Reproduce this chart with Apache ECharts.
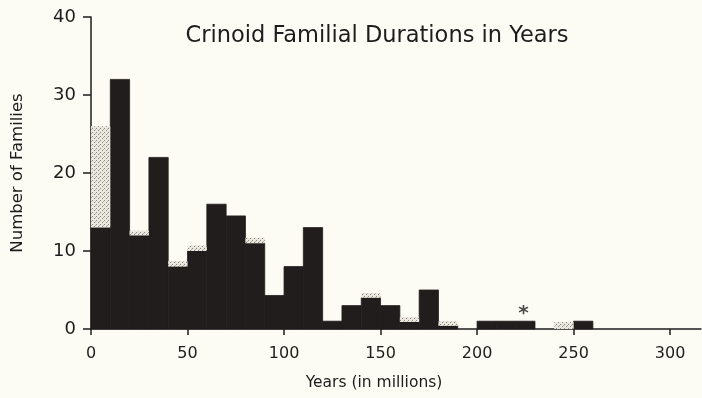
<!DOCTYPE html>
<html>
<head>
<meta charset="utf-8">
<script src="https://cdn.jsdelivr.net/npm/echarts@6/dist/echarts.min.js"></script>
<style>
  html, body { margin: 0; padding: 0; background: #fdfcf4; }
  #chart { width: 702px; height: 398px; }
</style>
</head>
<body>
<div id="chart"></div>
<script>
// Duration bins, 10 million years wide (start of each bin)
const binStarts = [0, 10, 20, 30, 40, 50, 60, 70, 80, 90, 100, 110, 120, 130, 140, 150, 160, 170, 180, 190, 200, 210, 220, 230, 240, 250];
const binWidth = 10;
// Families per bin: solid part and stippled part stacked on top
const solidCounts = [13, 32, 12, 22, 8, 10, 16, 14.5, 11, 4.3, 8, 13, 1, 3, 4, 3, 0.9, 5, 0.4, 0, 1, 1, 1, 0, 0, 1];
const stippledCounts = [13, 0, 0.6, 0, 0.7, 0.7, 0, 0, 0.7, 0, 0, 0, 0, 0, 0.6, 0, 0.6, 0, 0.6, 0, 0, 0, 0, 0, 0.9, 0];
// Asterisk note over the 200-230 span
const noteMarks = [[224, 1.9]];
const xTicks = [0, 50, 100, 150, 200, 250, 300];
const yTicks = [0, 10, 20, 30, 40];

// stippled fill pattern
function makeStipple() {
  const c = document.createElement('canvas');
  c.width = 4; c.height = 4;
  const g = c.getContext('2d');
  g.fillStyle = '#e9e7de';
  g.fillRect(0, 0, 4, 4);
  g.fillStyle = '#8a8780';
  g.fillRect(0, 0, 1, 1);
  g.fillRect(2, 2, 1, 1);
  g.fillStyle = '#b3b0a8';
  g.fillRect(3, 1, 1, 1);
  return c;
}
const stipple = { image: makeStipple(), repeat: 'repeat' };

const solidData = [];
const stippledData = [];
binStarts.forEach((b, i) => {
  if (solidCounts[i] > 0) solidData.push([b, b + binWidth, 0, solidCounts[i]]);
  if (stippledCounts[i] > 0) stippledData.push([b, b + binWidth, solidCounts[i], solidCounts[i] + stippledCounts[i]]);
});

function rectItem(fill, stroke) {
  return function (params, api) {
    const p0 = api.coord([api.value(0), api.value(2)]);
    const p1 = api.coord([api.value(1), api.value(3)]);
    return {
      type: 'rect',
      shape: { x: p0[0], y: p1[1], width: p1[0] - p0[0], height: p0[1] - p1[1] },
      style: stroke ? { fill: fill, stroke: stroke, lineWidth: 0.8 } : { fill: fill }
    };
  };
}

const FONT = 'DejaVu Sans';
const INK = '#1e1c1c';
const chart = echarts.init(document.getElementById('chart'), null, { renderer: 'canvas' });
chart.setOption({
  backgroundColor: '#fdfcf4',
  animation: false,
  title: {
    text: 'Crinoid Familial Durations in Years',
    left: 372,
    top: 20,
    textAlign: 'center',
    textStyle: { fontFamily: FONT, fontSize: 22.5, fontWeight: 'normal', color: INK }
  },
  grid: { left: 91, right: 1, top: 17, bottom: 69, containLabel: false },
  xAxis: {
    type: 'value',
    min: 0,
    max: 316,
    name: 'Years (in millions)',
    nameLocation: 'middle',
    nameGap: 46,
    nameTextStyle: { fontFamily: FONT, fontSize: 15.5, color: INK, padding: [0, 44, 0, 0] },
    axisLine: { show: true, onZero: false, lineStyle: { color: INK, width: 1.5 } },
    axisTick: { show: true, length: 6, customValues: xTicks, lineStyle: { color: INK, width: 1.5 } },
    axisLabel: { customValues: xTicks, margin: 17, fontFamily: FONT, fontSize: 16, color: INK },
    splitLine: { show: false }
  },
  yAxis: {
    type: 'value',
    min: 0,
    max: 40,
    interval: 10,
    name: 'Number of Families',
    nameLocation: 'middle',
    nameRotate: 90,
    nameGap: 65,
    nameTextStyle: { fontFamily: FONT, fontSize: 16.5, color: INK },
    axisLine: { show: true, lineStyle: { color: INK, width: 1.5 } },
    axisTick: { show: true, length: 8, customValues: yTicks, lineStyle: { color: INK, width: 1.5 } },
    axisLabel: { customValues: yTicks, margin: 15, fontFamily: FONT, fontSize: 18, color: INK },
    splitLine: { show: false }
  },
  series: [
    {
      name: 'solid',
      type: 'custom',
      renderItem: rectItem('#211d1d', '#211d1d'),
      encode: { x: [0, 1], y: [2, 3] },
      data: solidData,
      z: 2
    },
    {
      name: 'stippled',
      type: 'custom',
      renderItem: rectItem(stipple, null),
      encode: { x: [0, 1], y: [2, 3] },
      data: stippledData,
      z: 3
    },
    {
      name: 'note',
      type: 'scatter',
      symbolSize: 0,
      data: noteMarks,
      label: {
        show: true,
        formatter: '*',
        position: 'inside',
        fontFamily: FONT,
        fontSize: 20,
        fontWeight: 'bold',
        color: INK
      },
      z: 4
    }
  ]
});
</script>
</body>
</html>
